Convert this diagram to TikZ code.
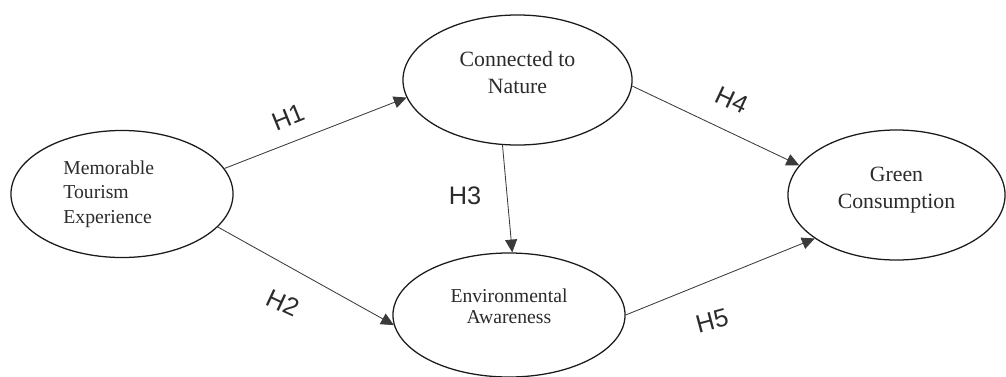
\documentclass[tikz,border=0pt]{standalone}
\usepackage{fontspec}
\setmainfont{Liberation Serif}
\newfontfamily\hfont{Liberation Sans}
\usetikzlibrary{arrows.meta,shapes.geometric}
\definecolor{cline}{HTML}{1A1A1A}
\definecolor{carrow}{HTML}{3A3A3A}
\definecolor{ctext}{HTML}{2B2B2B}
\tikzset{
  c/.style  = {draw=cline, ellipse, line width=0.9pt, inner sep=0pt},
  ct/.style = {align=center, text=ctext, inner sep=0pt, font=\fontsize{15.5}{19}\selectfont},
  cts/.style= {ct, font=\fontsize{14}{17.5}\selectfont},
  a/.style  = {-{Triangle[length=3.2mm,width=3mm]}, line width=0.6pt, draw=carrow},
  h/.style  = {font=\hfont\fontsize{18}{18}\selectfont, text=ctext, inner sep=0pt},
}

\begin{document}
\begin{tikzpicture}[x=0.025cm, y=-0.025cm]
\useasboundingbox (0,0) rectangle (1006,376);

% the four constructs, text set a little off centre as in the source
\node[c, minimum width=5.55cm,  minimum height=3.175cm] (mte) at (122,194)   {};
\node[c, minimum width=5.725cm, minimum height=3.25cm]  (cn)  at (517.5,80)  {};
\node[c, minimum width=5.8cm,   minimum height=3.1cm]   (ea)  at (509,315)   {};
\node[c, minimum width=5.425cm, minimum height=3.25cm]  (gc)  at (896.5,195) {};

\node[cts, align=left] (mtet) at ([xshift=-0.33cm]mte.center) {Memorable\\Tourism\\Experience};
\node[ct]  (cnt) at ([yshift=0.19cm]cn.center) {Connected to\\Nature};
\node[cts, font=\fontsize{14}{15.5}\selectfont] (eat) at ([yshift=0.22cm]ea.center) {Environmental\\Awareness};
\node[ct]  (gct) at ([yshift=0.12cm]gc.center) {Green\\Consumption};

% hypothesised paths
\draw[a] (mte.14)  -- (cn.189);
\draw[a] (mte.-19) -- (ea.185);
\draw[a] (cn.257)  -- (ea.87);
\draw[a] (cn.-3)   -- (gc.163);
\draw[a] (ea.0)    -- (gc.208);

\node[h, rotate=22]  (lh1) at (288,117) {H1};
\node[h, rotate=-25] (lh2) at (283,303) {H2};
\node[h]             (lh3) at (465,196) {H3};
\node[h, rotate=-25] (lh4) at (732,100) {H4};
\node[h, rotate=15]  (lh5) at (712,321) {H5};

\end{tikzpicture}
\end{document}
